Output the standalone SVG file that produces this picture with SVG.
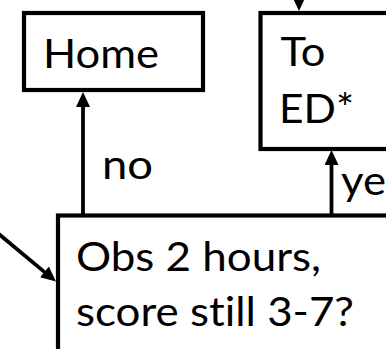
<svg xmlns="http://www.w3.org/2000/svg" width="386" height="349" viewBox="0 0 386 349">
<defs>
<style>
.box{fill:#fff;stroke:#000;stroke-width:4.2}
.lbl{font-family:Lato,"Open Sans","Liberation Sans",sans-serif;font-size:41px;fill:#000;font-variant-ligatures:none;font-feature-settings:"liga" 0,"clig" 0,"dlig" 0}
.conn{stroke:#000;stroke-width:3.8;fill:none}
</style>
<marker id="ah" viewBox="0 0 15 14" refX="1" refY="7" markerWidth="15" markerHeight="14" markerUnits="userSpaceOnUse" orient="auto">
<path d="M0,0 L15,7 L0,14 Z" fill="#000"/>
</marker>
</defs>
<rect width="386" height="349" fill="#fff"/>
<g id="node-home">
<rect class="box" x="24" y="13" width="179" height="77"/>
<text class="lbl" x="43" y="68.3" textLength="116" lengthAdjust="spacingAndGlyphs">Home</text>
</g>
<g id="node-toed">
<rect class="box" x="260.5" y="13" width="200" height="136"/>
<text class="lbl" x="280.5" y="66" textLength="45" lengthAdjust="spacingAndGlyphs">To</text>
<text class="lbl" x="279" y="123" textLength="75" lengthAdjust="spacingAndGlyphs">ED*</text>
</g>
<g id="node-obs">
<rect class="box" x="58" y="215.5" width="400" height="200"/>
<text class="lbl" x="76" y="271" textLength="245" lengthAdjust="spacingAndGlyphs">Obs 2 hours,</text>
<text class="lbl" x="76" y="325.7" textLength="278" lengthAdjust="spacingAndGlyphs">score still 3-7?</text>
</g>
<g id="connectors">
<line class="conn" x1="83" y1="214" x2="83" y2="106" marker-end="url(#ah)"/>
<line class="conn" x1="331.5" y1="214" x2="331.5" y2="164" marker-end="url(#ah)"/>
<line class="conn" x1="299" y1="-30" x2="299" y2="-3" marker-end="url(#ah)"/>
<line class="conn" x1="-6" y1="230.1" x2="45.2" y2="272.6" marker-end="url(#ah)"/>
<text class="lbl" x="102" y="179.3" textLength="51" lengthAdjust="spacingAndGlyphs">no</text>
<text class="lbl" x="341" y="195" textLength="45" lengthAdjust="spacingAndGlyphs">ye</text>
</g>
</svg>
